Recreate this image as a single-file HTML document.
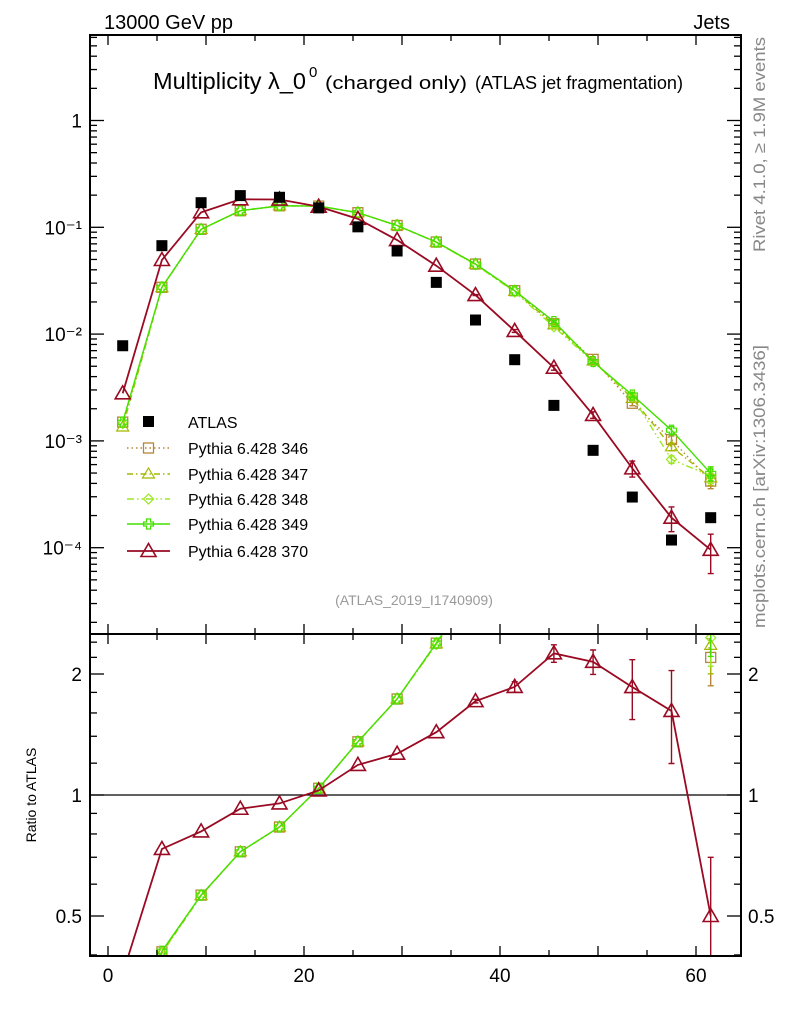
<!DOCTYPE html>
<html><head><meta charset="utf-8"><style>
html,body{margin:0;background:#fff;overflow:hidden;width:786px;height:1024px;}
svg{display:block;font-family:"Liberation Sans",sans-serif;}
</style></head><body>
<svg id="chart" width="786" height="1024" viewBox="0 0 786 1024" xmlns="http://www.w3.org/2000/svg">
<text x="104" y="29" font-size="20">13000 GeV pp</text>
<text x="730" y="29" font-size="20" text-anchor="end">Jets</text>
<g>
<text x="153" y="89" font-size="23" textLength="153" lengthAdjust="spacingAndGlyphs">Multiplicity λ_0</text>
<text x="309" y="77" font-size="15">0</text>
<text x="325" y="89" font-size="18" textLength="142" lengthAdjust="spacingAndGlyphs">(charged only)</text>
<text x="475" y="89" font-size="18" textLength="208" lengthAdjust="spacingAndGlyphs">(ATLAS jet fragmentation)</text>
</g>
<text x="414" y="605" font-size="14" fill="#999" text-anchor="middle">(ATLAS_2019_I1740909)</text>
<text transform="translate(765,252) rotate(-90)" font-size="17" fill="#888" textLength="215" lengthAdjust="spacingAndGlyphs">Rivet 4.1.0, ≥ 1.9M events</text>
<text transform="translate(765,628) rotate(-90)" font-size="17" fill="#888" textLength="283" lengthAdjust="spacingAndGlyphs">mcplots.cern.ch [arXiv:1306.3436]</text>
<text transform="translate(36,795) rotate(-90)" font-size="14" text-anchor="middle">Ratio to ATLAS</text>
<g id="main"></g><g id="ratio"></g><g id="axes"></g><g id="legend"></g>
</svg>
<script>
const xCenters=[1.5,5.5,9.5,13.5,17.5,21.5,25.5,29.5,33.5,37.5,41.5,45.5,49.5,53.5,57.5,61.5];
const atlasVals=[0.00778,0.0673,0.170,0.198,0.191,0.152,0.101,0.060,0.0305,0.01355,0.00576,0.00215,0.000816,0.000298,0.000118,0.000191];
const p346=[0.0015,0.0274,0.0958,0.143,0.159,0.158,0.137,0.104,0.0728,0.0453,0.0255,0.0125,0.0058,0.00225,0.00103,0.00042];
const p347=[0.00135,0.0272,0.0955,0.143,0.159,0.158,0.137,0.104,0.0725,0.0450,0.0252,0.0122,0.0056,0.0025,0.00088,0.00045];
const p348=[0.00145,0.0273,0.0956,0.143,0.159,0.158,0.137,0.104,0.0722,0.0446,0.0248,0.0117,0.0055,0.0026,0.00067,0.00047];
const p349=[0.0015,0.0275,0.0958,0.143,0.159,0.158,0.137,0.104,0.0728,0.0453,0.0255,0.0131,0.00553,0.00269,0.00126,0.000497];
const p370=[0.00279,0.0494,0.138,0.183,0.182,0.156,0.120,0.076,0.0437,0.0232,0.0107,0.00484,0.00175,0.000553,0.000191,0.0000955];
const p370RelErr=[0,0,0,0,0,0,0,0,0,0.01,0.03,0.05,0.07,0.17,0.26,0.4];
const greenRelErr=[0,0,0,0,0,0,0,0,0,0,0,0.02,0.03,0.05,0.08,0.15];
const xTickLabels=[0,20,40,60];
const mainTickLabels=[["10⁻⁴",-4],["10⁻³",-3],["10⁻²",-2],["10⁻¹",-1],["1",0]];
const ratioTickLabels=[0.5,1,2];

const NS="http://www.w3.org/2000/svg";
const L=90,R=741,MT=35,MB=634,RT=634,RB=956;
const X=v=>108+9.8*v;
const YM=v=>120.5-106.8*Math.log10(v);
const YR=v=>795-121*Math.log2(v);
function mk(tag,attrs,parent){const e=document.createElementNS(NS,tag);for(const k in attrs)e.setAttribute(k,attrs[k]);parent.appendChild(e);return e;}
const gMain=document.getElementById('main'),gRatio=document.getElementById('ratio'),gAxes=document.getElementById('axes'),gLeg=document.getElementById('legend');

const defs=mk('defs',{},document.getElementById('chart'));
const c1=mk('clipPath',{id:'cm'},defs);mk('rect',{x:L,y:MT,width:R-L,height:MB-MT},c1);
const c2=mk('clipPath',{id:'cr'},defs);mk('rect',{x:L,y:RT,width:R-L,height:RB-RT},c2);
gMain.setAttribute('clip-path','url(#cm)');gRatio.setAttribute('clip-path','url(#cr)');

const series=[
 {name:'Pythia 6.428 346',vals:p346,col:'#b8863b',dash:'1.5,3',mark:'square',err:greenRelErr},
 {name:'Pythia 6.428 347',vals:p347,col:'#a4b800',dash:'6,3,1.5,3',mark:'triangle',err:greenRelErr},
 {name:'Pythia 6.428 348',vals:p348,col:'#9be820',dash:'7,3,1.5,3,1.5,3',mark:'diamond',err:greenRelErr},
 {name:'Pythia 6.428 349',vals:p349,col:'#44e000',dash:'',mark:'cross',err:greenRelErr},
 {name:'Pythia 6.428 370',vals:p370,col:'#9a0a22',dash:'',mark:'triangle',err:p370RelErr,big:true}
];

function marker(g,kind,x,y,col,big){
  const s=big?6.5:5;
  let e;
  if(kind==='square')e=mk('rect',{x:x-s,y:y-s,width:2*s,height:2*s,fill:'none',stroke:col,'stroke-width':1.3},g);
  else if(kind==='triangle')e=mk('polygon',{points:`${x},${y-s-1} ${x-s-1},${y+s-1} ${x+s+1},${y+s-1}`,fill:'none',stroke:col,'stroke-width':big?1.6:1.2},g);
  else if(kind==='diamond')e=mk('polygon',{points:`${x},${y-s} ${x-s},${y} ${x},${y+s} ${x+s},${y}`,fill:'none',stroke:col,'stroke-width':1.2},g);
  else e=mk('path',{d:`M${x-s} ${y-2}h${s-2}v-${s-2}h4v${s-2}h${s-2}v4h-${s-2}v${s-2}h-4v-${s-2}h-${s-2}z`,fill:'none',stroke:col,'stroke-width':1.2},g);
  return e;
}

function drawSeries(g,vals,yf,s,ratioMode){
  const pts=[];
  vals.forEach((v,i)=>{const val=ratioMode?v/atlasVals[i]:v;pts.push([X(xCenters[i]),yf(val),val,i]);});
  const line=mk('polyline',{points:pts.map(p=>p[0]+','+p[1]).join(' '),fill:'none',stroke:s.col,'stroke-width':s.big?1.8:1.4,'stroke-dasharray':s.dash},g);
  
  
  pts.forEach(p=>{
    const e=s.err[p[3]];
    if(e>0){const eb=mk('path',{d:`M${p[0]} ${yf(p[2]*(1+e))}V${yf(Math.max(p[2]*(1-e),1e-9))}M${p[0]-3} ${yf(p[2]*(1+e))}h6M${p[0]-3} ${yf(Math.max(p[2]*(1-e),1e-9))}h6`,stroke:s.col,'stroke-width':1.4,fill:'none'},g);
      
      }
    const m=marker(g,s.mark,p[0],p[1],s.col,s.big);
    
    
  });
}
series.forEach(s=>drawSeries(gMain,s.vals,YM,s,false));
atlasVals.forEach((v,i)=>{const r=mk('rect',{x:X(xCenters[i])-5.5,y:YM(v)-5.5,width:11,height:11,fill:'#000'},gMain);
  
  });
const one=mk('line',{x1:L,x2:R,y1:YR(1),y2:YR(1),stroke:'#000','stroke-width':1.3},gRatio);


series.forEach(s=>drawSeries(gRatio,s.vals,YR,s,true));

function frame(y0,y1,name){const f=mk('rect',{x:L,y:y0,width:R-L,height:y1-y0,fill:'none',stroke:'#000','stroke-width':2},gAxes);
  
  }
frame(MT,MB,'main-plot-frame');frame(RT,RB,'ratio-plot-frame');
function tick(x1,y1,x2,y2){mk('line',{x1,y1,x2,y2,stroke:'#000','stroke-width':1.3},gAxes);}
for(let v=0;v<=64;v+=5){const x=X(v);const len=v%10===0?10:6;
  [[MT,1],[MB,-1],[RT,1],[RB,-1]].forEach(([y,d])=>tick(x,y,x,y+d*len));}
for(let d=-5;d<=0;d++){for(let k=1;k<=9;k++){const v=k*Math.pow(10,d);const y=YM(v);if(y<MT||y>MB)continue;const len=k===1?14:7;tick(L,y,L+len,y);tick(R,y,R-len,y);}}
mainTickLabels.forEach(([t,p])=>{const tx=mk('text',{x:L-8,y:YM(Math.pow(10,p))+7,'font-size':19,'text-anchor':'end'},gAxes);tx.textContent=t;
  
  });
[0.4,0.5,0.6,0.7,0.8,0.9,1,1.2,1.4,1.6,1.8,2,2.2,2.4].forEach(v=>{const y=YR(v);const len=(v===0.5||v===1||v===2)?14:7;tick(L,y,L+len,y);tick(R,y,R-len,y);});
ratioTickLabels.forEach(v=>{
  const a=mk('text',{x:L-8,y:YR(v)+7,'font-size':19,'text-anchor':'end'},gAxes);a.textContent=String(v);
  
  
  const b=mk('text',{x:R+7,y:YR(v)+7,'font-size':19},gAxes);b.textContent=String(v);
  
  });
xTickLabels.forEach(v=>{const t=mk('text',{x:X(v),y:982,'font-size':19,'text-anchor':'middle'},gAxes);t.textContent=String(v);
  
  });

const legY=[448,474,499,524,551];
const la=mk('rect',{x:143,y:416,width:11,height:11,fill:'#000'},gLeg);


const lt=mk('text',{x:188,y:428,'font-size':16},gLeg);lt.textContent='ATLAS';


series.forEach((s,i)=>{const y=legY[i];
  const ln=mk('line',{x1:127,x2:170,y1:y,y2:y,stroke:s.col,'stroke-width':s.big?1.8:1.4,'stroke-dasharray':s.dash},gLeg);
  
  
  marker(gLeg,s.mark,148.5,y,s.col,s.big);
  const t=mk('text',{x:188,y:y+6,'font-size':16},gLeg);t.textContent=s.name;
  
  });
</script>
</body></html>
